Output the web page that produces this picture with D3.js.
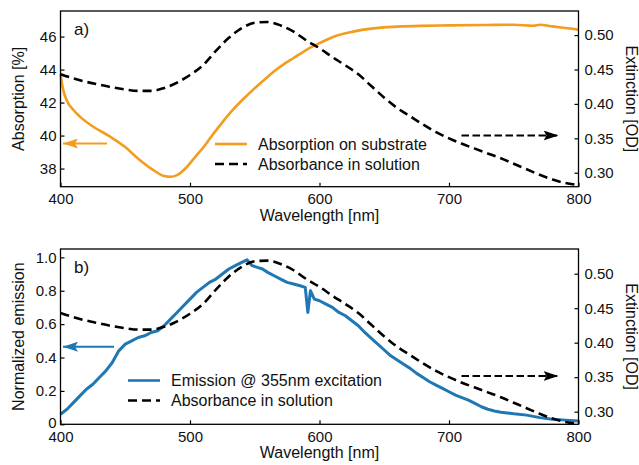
<!DOCTYPE html>
<html>
<head>
<meta charset="utf-8">
<script src="https://cdn.jsdelivr.net/npm/d3@7/dist/d3.min.js"></script>
<style>
  body { margin: 0; background: #fff; }
  svg { font-family: "Liberation Sans", Arial, sans-serif; }
  .tick text { font-size: 15px; fill: #111; }
</style>
</head>
<body>
<div id="chart"></div>
<script>
// --- data ---
var wlTicks = [400, 500, 600, 700, 800];
var absTicks = [38, 40, 42, 44, 46];
var odTicks = [0.30, 0.35, 0.40, 0.45, 0.50];
var emTicks = [0, 0.2, 0.4, 0.6, 0.8, 1.0];
var emTickLabels = ["0", "0.2", "0.4", "0.6", "0.8", "1.0"];

// absorbance in solution (OD), shared by both panels
var solWl = [400, 410, 420, 430, 440, 450, 460, 470, 480, 490, 500, 510, 520, 530, 540, 550, 560, 570, 580, 590,
  600, 610, 620, 630, 640, 650, 660, 670, 680, 690, 700, 710, 720, 730, 740, 750, 760, 770, 780, 790, 800];
var solOD = [0.443, 0.437, 0.432, 0.428, 0.424, 0.421, 0.419, 0.419, 0.423, 0.431, 0.442, 0.456, 0.477, 0.496, 0.510,
  0.518, 0.519, 0.514, 0.505, 0.492, 0.481, 0.468, 0.456, 0.443, 0.426, 0.409, 0.394, 0.382, 0.370, 0.359,
  0.350, 0.342, 0.335, 0.328, 0.321, 0.313, 0.305, 0.297, 0.290, 0.285, 0.282];

// absorption on substrate (%)
var subWl = [400, 402, 405, 410, 415, 425, 438, 450, 460, 470, 480, 485, 490, 497, 505, 510, 518, 525, 533, 541,
  549, 557, 565, 572, 580, 590, 600, 613, 626, 640, 652, 665, 678, 700, 729, 750, 765, 770, 780, 790, 800];
var subAbs = [43.7, 42.8, 42.1, 41.55, 41.15, 40.55, 39.95, 39.3, 38.6, 38.0, 37.55, 37.5, 37.6, 38.05, 38.8, 39.25,
  40.1, 40.8, 41.55, 42.2, 42.8, 43.35, 43.9, 44.3, 44.7, 45.2, 45.6, 46.05, 46.3, 46.48, 46.57, 46.62, 46.65,
  46.68, 46.7, 46.72, 46.66, 46.72, 46.62, 46.52, 46.42];

// emission @ 355nm excitation (normalized)
var emWl = [400, 405, 410, 415, 420, 425, 430, 435, 440, 445, 450, 455, 460, 465, 470, 475, 480, 485, 490, 495,
  500, 505, 510, 515, 520, 525, 530, 535, 540, 544, 548, 552, 556, 560, 565, 570, 575, 580, 585, 589, 591, 593,
  596, 600, 605, 610, 615, 620, 625, 630, 635, 640, 645, 650, 655, 660, 665, 670, 675, 680, 685, 690, 695, 700,
  705, 710, 715, 720, 725, 730, 735, 740, 745, 750, 760, 770, 780, 790, 800];
var emVal = [0.06, 0.09, 0.13, 0.17, 0.21, 0.24, 0.28, 0.32, 0.37, 0.44, 0.48, 0.50, 0.52, 0.53, 0.55, 0.56, 0.59,
  0.63, 0.67, 0.71, 0.75, 0.79, 0.82, 0.85, 0.87, 0.90, 0.93, 0.95, 0.97, 0.985, 0.95, 0.94, 0.93, 0.91, 0.89,
  0.87, 0.85, 0.84, 0.83, 0.82, 0.67, 0.80, 0.75, 0.74, 0.72, 0.70, 0.67, 0.65, 0.62, 0.59, 0.55, 0.515, 0.48,
  0.445, 0.41, 0.385, 0.36, 0.335, 0.305, 0.28, 0.255, 0.235, 0.215, 0.195, 0.175, 0.16, 0.145, 0.125, 0.105,
  0.09, 0.08, 0.072, 0.068, 0.063, 0.055, 0.04, 0.03, 0.025, 0.02];

var ORANGE = "#f39c1f", BLUE = "#1f77b4";

var svg = d3.select("#chart").append("svg")
  .attr("width", 639)
  .attr("height", 465);

var defs = svg.append("defs");
function marker(id, color) {
  defs.append("marker")
    .attr("id", id)
    .attr("viewBox", "0 0 15 10")
    .attr("refX", 15).attr("refY", 5)
    .attr("markerUnits", "userSpaceOnUse")
    .attr("markerWidth", 15).attr("markerHeight", 10)
    .attr("orient", "auto")
    .append("path")
    .attr("d", "M0,0 L15,5 L0,10 L3,5 Z")
    .attr("fill", color);
}
marker("headO", ORANGE);
marker("headB", BLUE);
marker("headK", "#000");

var left = 60.5, right = 578.5;
var x = d3.scaleLinear().domain([400, 800]).range([left, right]);

function panel(o) {
  var g = svg.append("g");
  var yL = d3.scaleLinear().domain(o.leftDomain).range([o.bottom, o.top]);
  var yR = d3.scaleLinear().domain(o.rightDomain).range([o.bottom, o.top]);

  // curves
  g.append("path")
    .datum(d3.zip(solWl, solOD))
    .attr("fill", "none")
    .attr("stroke", "#000")
    .attr("stroke-width", 2.6)
    .attr("stroke-dasharray", "9,5")
    .attr("d", d3.line().curve(d3.curveMonotoneX)
      .x(function(d) { return x(d[0]); })
      .y(function(d) { return yR(d[1]); }));

  g.insert("path", ":first-child")
    .datum(d3.zip(o.wl, o.vals))
    .attr("fill", "none")
    .attr("stroke", o.color)
    .attr("stroke-width", o.width)
    .attr("stroke-linejoin", "round")
    .attr("d", d3.line().curve(o.curve)
      .x(function(d) { return x(d[0]); })
      .y(function(d) { return yL(d[1]); }));

  // frame
  g.append("rect")
    .attr("x", left).attr("y", o.top)
    .attr("width", right - left).attr("height", o.bottom - o.top)
    .attr("fill", "none").attr("stroke", "#000").attr("stroke-width", 1.3);

  var ax = g.append("g").attr("transform", "translate(0," + o.bottom + ")")
    .call(d3.axisBottom(x).tickValues(wlTicks).tickSizeInner(-4).tickSizeOuter(0).tickPadding(7));
  var ay = g.append("g").attr("transform", "translate(" + left + ",0)")
    .call(d3.axisLeft(yL).tickValues(o.leftTicks).tickSizeInner(-4).tickSizeOuter(0).tickPadding(4)
      .tickFormat(o.leftFormat));
  var ar = g.append("g").attr("transform", "translate(" + right + ",0)")
    .call(d3.axisRight(yR).tickValues(odTicks).tickSizeInner(-4).tickSizeOuter(0).tickPadding(6)
      .tickFormat(d3.format(".2f")));
  [ax, ay, ar].forEach(function(a) {
    a.select(".domain").remove();
    a.selectAll(".tick line").attr("stroke-width", 1.2);
  });
  // lowest left label sits just above the x tick labels
  ay.selectAll(".tick text").filter(function(d) { return d === 0; }).attr("dy", "0.2em");

  // axis titles
  g.append("text")
    .attr("x", (left + right) / 2).attr("y", o.bottom + 34)
    .attr("text-anchor", "middle").attr("font-size", 16).attr("fill", "#111")
    .text("Wavelength [nm]");
  g.append("text")
    .attr("transform", "translate(24," + (o.top + o.bottom) / 2 + ") rotate(-90)")
    .attr("text-anchor", "middle").attr("font-size", 16).attr("fill", "#111")
    .text(o.leftLabel);
  g.append("text")
    .attr("transform", "translate(626," + (o.top + o.bottom) / 2 + ") rotate(90)")
    .attr("text-anchor", "middle").attr("font-size", 16).attr("fill", "#111")
    .text("Extinction [OD]");

  // panel letter
  g.append("text")
    .attr("x", 74).attr("y", o.top + 24)
    .attr("font-size", 17).attr("fill", "#111")
    .text(o.letter);

  // arrows
  g.append("line")
    .attr("x1", o.arrowL[0]).attr("x2", 63).attr("y1", o.arrowL[1]).attr("y2", o.arrowL[1])
    .attr("stroke", o.color).attr("stroke-width", 2)
    .attr("marker-end", "url(#" + o.head + ")");
  g.append("line")
    .attr("x1", 461.5).attr("x2", 558.5).attr("y1", o.arrowR).attr("y2", o.arrowR)
    .attr("stroke", "#000").attr("stroke-width", 2).attr("stroke-dasharray", "7.5,3.5")
    .attr("marker-end", "url(#headK)");

  // legend
  var lg = g.append("g").attr("transform", "translate(" + o.legend[0] + "," + o.legend[1] + ")");
  lg.append("line").attr("x1", 0).attr("x2", 32).attr("y1", 0).attr("y2", 0)
    .attr("stroke", o.color).attr("stroke-width", 2.6);
  lg.append("line").attr("x1", 0).attr("x2", 32).attr("y1", 20).attr("y2", 20)
    .attr("stroke", "#000").attr("stroke-width", 2.6).attr("stroke-dasharray", "9,5");
  lg.append("text").attr("x", 43).attr("y", 5.5).attr("font-size", 16).attr("fill", "#111")
    .text(o.legendText);
  lg.append("text").attr("x", 43).attr("y", 25.5).attr("font-size", 16).attr("fill", "#111")
    .text("Absorbance in solution");
}

panel({
  top: 11, bottom: 186.7,
  leftDomain: [36.9, 47.55], rightDomain: [0.2797, 0.535],
  leftTicks: absTicks, leftFormat: d3.format("d"),
  wl: subWl, vals: subAbs, color: ORANGE, width: 2.6, curve: d3.curveMonotoneX,
  leftLabel: "Absorption [%]", letter: "a)",
  arrowL: [107, 143.5], head: "headO", arrowR: 135.5,
  legend: [215, 144], legendText: "Absorption on substrate"
});

panel({
  top: 249, bottom: 424.3,
  leftDomain: [0, 1.05], rightDomain: [0.2817, 0.5358],
  leftTicks: emTicks, leftFormat: function(d, i) { return emTickLabels[i]; },
  wl: emWl, vals: emVal, color: BLUE, width: 3, curve: d3.curveLinear,
  leftLabel: "Normalized emission", letter: "b)",
  arrowL: [114, 346.7], head: "headB", arrowR: 376,
  legend: [128, 380.5], legendText: "Emission @ 355nm excitation"
});
</script>
</body>
</html>
